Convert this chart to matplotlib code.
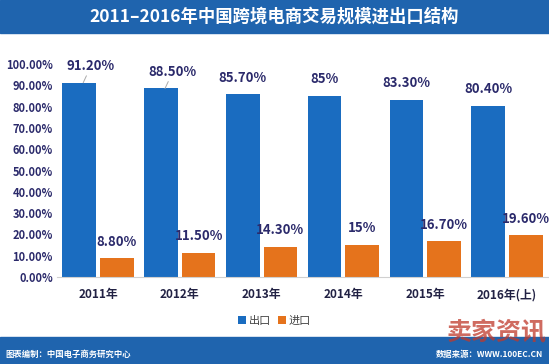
import matplotlib
matplotlib.use("Agg")
import matplotlib.pyplot as plt
import numpy as np

plt.rcParams['font.family'] = ['Noto Sans CJK SC', 'DejaVu Sans']

# 数据
years = ['2011年', '2012年', '2013年', '2014年', '2015年', '2016年(上)']
export_pct = [91.2, 88.5, 85.7, 85.0, 83.3, 80.4]
import_pct = [8.8, 11.5, 14.3, 15.0, 16.7, 19.6]
export_labels = ['91.20%', '88.50%', '85.70%', '85%', '83.30%', '80.40%']
import_labels = ['8.80%', '11.50%', '14.30%', '15%', '16.70%', '19.60%']
yticks = [0, 10, 20, 30, 40, 50, 60, 70, 80, 90, 100]

blue = '#1a6cc0'
orange = '#e5731c'
band = '#1f64ae'
navy = '#2b2a6b'

fig = plt.figure(figsize=(5.49, 3.64), dpi=100)
fig.patch.set_facecolor('white')

# 标题和底部色带
fig.patches.append(plt.Rectangle((0, 1 - 33 / 364), 1, 33 / 364, transform=fig.transFigure,
                                 color=band, zorder=0))
fig.patches.append(plt.Rectangle((0, 0), 1, 27 / 364, transform=fig.transFigure,
                                 color=band, zorder=0))
fig.text(0.5, 1 - 17 / 364, '2011–2016年中国跨境电商交易规模进出口结构', color='white',
         fontsize=12.5, fontweight='bold', ha='center', va='center')
fig.text(0.01, 10 / 364, '图表编制：中国电子商务研究中心', color='white', fontsize=6,
         ha='left', va='center', fontweight='bold')
fig.text(0.99, 10 / 364, '数据来源：WWW.100EC.CN', color='white', fontsize=6,
         ha='right', va='center', fontweight='bold')
fig.text(0.995, 31 / 364, '卖家资讯', color='#c0392b', alpha=0.75, fontsize=18,
         ha='right', va='center', fontweight='bold')

ax = fig.add_axes([57 / 549, 1 - 277 / 364, 491 / 549, 213 / 364])
x = np.arange(len(years))
off = 0.23
w = 0.41
ax.bar(x - off, export_pct, width=w, color=blue, label='出口')
ax.bar(x + off, import_pct, width=w, color=orange, label='进口')

for i in range(len(years)):
    if i < 2:
        ax.annotate(export_labels[i], xy=(x[i] - off + 0.05, export_pct[i]), xytext=(5, 7),
                    textcoords='offset points', ha='center', va='bottom', color=navy,
                    fontsize=9.5, fontweight='bold',
                    arrowprops=dict(arrowstyle='-', color='#aaaaaa', lw=0.7,
                                    shrinkA=0, shrinkB=0, relpos=(0.45, 0)))
    else:
        ax.annotate(export_labels[i], xy=(x[i] - off, export_pct[i]), xytext=(0, 7),
                    textcoords='offset points', ha='center', va='bottom', color=navy,
                    fontsize=9.5, fontweight='bold')
    ax.annotate(import_labels[i], xy=(x[i] + off, import_pct[i]), xytext=(0, 7),
                textcoords='offset points', ha='center', va='bottom', color=navy,
                fontsize=9.5, fontweight='bold')

ax.set_xlim(-0.5, len(years) - 0.5)
ax.set_ylim(0, 100)
ax.set_yticks(yticks)
ax.set_yticklabels([f'{v:.2f}%' for v in yticks], color=navy, fontsize=8,
                   fontweight='bold')
ax.set_xticks(x)
ax.set_xticklabels(years, color='#222244', fontsize=8.5, fontweight='bold')
ax.tick_params(axis='both', length=0)
ax.tick_params(axis='x', pad=8)
ax.tick_params(axis='y', pad=3)
for s in ['top', 'right', 'left']:
    ax.spines[s].set_visible(False)
ax.spines['bottom'].set_color('#d0d0d0')

leg = fig.legend(loc='center', bbox_to_anchor=(0.5, 1 - 321 / 364), ncol=2, frameon=False,
                 fontsize=8, handlelength=0.7, handleheight=0.7, handletextpad=0.3,
                 columnspacing=0.6)
for t in leg.get_texts():
    t.set_color('#444444')

fig.savefig('out.png', dpi=100, facecolor='white')
